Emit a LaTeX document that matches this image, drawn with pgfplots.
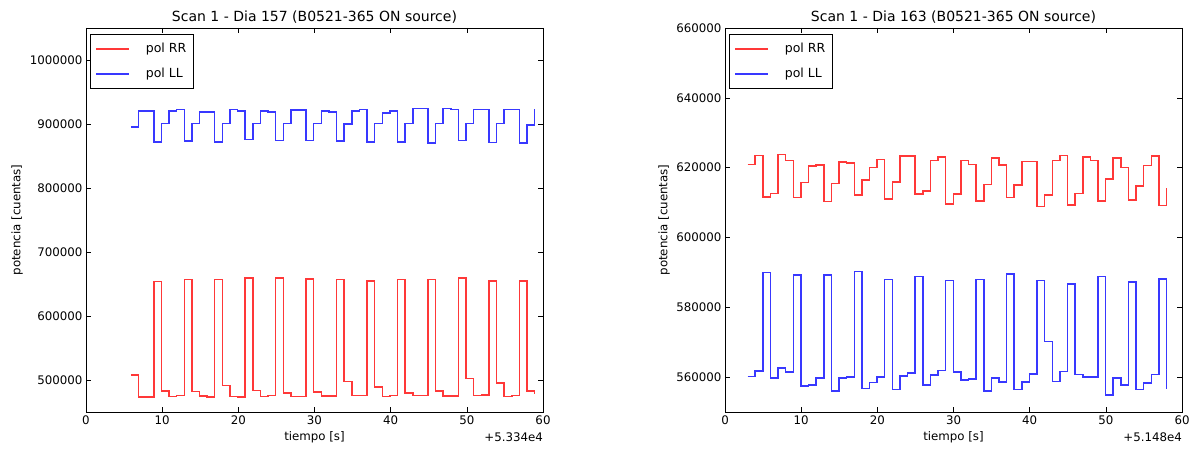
\documentclass[border=0pt]{standalone}
\usepackage{fontspec}
\setmainfont{DejaVu Sans}
\usepackage{pgfplots}
\pgfplotsset{compat=1.18}
\usepackage{pgfplotstable}

% Scan 1, day 157: time [s] (offset 5.334e4) and power [counts]
\pgfplotstableread{
t v
5.9 507800
6.9 473400
7.9 473400
8.9 654100
9.9 482800
10.9 474500
11.9 475400
12.9 656700
13.9 481700
14.9 474900
15.9 473400
16.9 656700
17.9 491700
18.9 474400
19.9 473400
20.9 659400
21.9 483800
22.9 474400
23.9 475400
24.9 659400
25.9 479600
26.9 473900
27.9 473900
28.9 658000
29.9 481000
30.9 474900
31.9 474900
32.9 656700
33.9 497300
34.9 476000
35.9 476000
36.9 655000
37.9 489000
38.9 473900
39.9 475400
40.9 656700
41.9 479600
42.9 475400
43.9 475400
44.9 656700
45.9 482800
46.9 474900
47.9 474900
48.9 659400
49.9 502000
50.9 475400
51.9 476500
52.9 655000
53.9 495300
54.9 473900
55.9 475400
56.9 655000
57.9 482800
58.9 477600
}\dayArr

\pgfplotstableread{
t v
5.9 895500
6.9 920600
7.9 920600
8.9 872000
9.9 900700
10.9 920600
11.9 922700
12.9 873500
13.9 900700
14.9 919000
15.9 919000
16.9 872000
17.9 900700
18.9 922700
19.9 920600
20.9 875600
21.9 900700
22.9 920600
23.9 919000
24.9 874600
25.9 900700
26.9 921600
27.9 921600
28.9 874600
29.9 900700
30.9 920600
31.9 919000
32.9 873500
33.9 899700
34.9 920600
35.9 922700
36.9 872000
37.9 900700
38.9 917400
39.9 920600
40.9 872000
41.9 900700
42.9 924200
43.9 924200
44.9 870400
45.9 900700
46.9 924200
47.9 922700
48.9 874600
49.9 900700
50.9 922700
51.9 922700
52.9 870900
53.9 900700
54.9 922700
55.9 922700
56.9 870400
57.9 898500
58.9 923000
}\dayAll

% Scan 1, day 163: time [s] (offset 5.148e4) and power [counts]
\pgfplotstableread{
t v
2.97 620900
3.97 623500
4.97 611600
5.97 612600
6.97 623700
7.97 622100
8.97 611400
9.97 615700
10.97 620400
11.97 620700
12.97 610300
13.97 615400
14.97 621600
15.97 621400
16.97 612100
17.97 616400
18.97 620100
19.97 622300
20.97 611000
21.97 615900
22.97 623300
23.97 623300
24.97 612400
25.97 613300
26.97 622100
27.97 623000
28.97 609600
29.97 612400
30.97 622000
31.97 620900
32.97 610500
33.97 615200
34.97 622800
35.97 620700
36.97 611400
37.97 615000
38.97 621800
39.97 621800
40.97 608800
41.97 612200
42.97 622100
43.97 623500
44.97 609300
45.97 612600
46.97 623000
47.97 622100
48.97 610500
49.97 616700
50.97 622800
51.97 620100
52.97 610800
53.97 614800
54.97 620600
55.97 623300
56.97 609100
57.97 614300
}\dayBrr

\pgfplotstableread{
t v
2.97 560200
3.97 561700
4.97 590000
5.97 559800
6.97 562600
7.97 561400
8.97 589300
9.97 557400
10.97 557800
11.97 559800
12.97 589300
13.97 556000
14.97 559800
15.97 560000
16.97 590200
17.97 556700
18.97 558400
19.97 560000
20.97 588000
21.97 556400
22.97 560300
23.97 561200
24.97 588800
25.97 557800
26.97 560600
27.97 561900
28.97 587700
29.97 561400
30.97 559200
31.97 559500
32.97 588000
33.97 556000
34.97 559800
35.97 558600
36.97 589500
37.97 556400
38.97 558600
39.97 560900
40.97 587600
41.97 570200
42.97 558800
43.97 561600
44.97 586700
45.97 560800
46.97 560000
47.97 560000
48.97 588800
49.97 554800
50.97 559700
51.97 557800
52.97 587200
53.97 556400
54.97 558300
55.97 560800
56.97 588100
57.97 556700
}\dayBll

\newcommand{\lblfont}{\fontsize{11.8}{14}\selectfont}
\definecolor{rrline}{rgb}{1,0.22,0.22}
\definecolor{llline}{rgb}{0.22,0.22,1}

\pgfplotsset{
  scanaxis/.style={
    scale only axis, width=457pt, height=384pt,
    xmin=0, xmax=60, xtick={0,10,...,60},
    tick align=inside, tick pos=both, major tick length=5pt,
    tick style={black, line width=0.6pt},
    axis line style={black, line width=0.8pt},
    scaled x ticks=false, scaled y ticks=false,
    /pgf/number format/assume math mode=true,
    yticklabel style={/pgf/number format/fixed, /pgf/number format/1000 sep={}},
    tick label style={font=\lblfont},
    clip mode=individual,
    title style={anchor=base, yshift=0pt, font=\fontsize{14}{17}\selectfont},
    xlabel style={at={(0.5,0)}, anchor=center, yshift=-25pt, font=\lblfont},
    legend style={at={(0,1)}, anchor=north west, xshift=4pt, yshift=-6pt,
      draw=black, line width=0.8pt, fill=white,
      inner xsep=5pt, inner ysep=7pt, row sep=10pt, column sep=14pt,
      font=\fontsize{12.5}{15}\selectfont},
    legend cell align=left,
    legend image code/.code={\draw[#1, line width=1.5pt] (0pt,0pt) -- (33pt,0pt);},
  },
  rr/.style={rrline, line width=1.5pt, const plot},
  ll/.style={llline, line width=1.5pt, const plot},
}

\begin{document}
\begin{tikzpicture}
\useasboundingbox (0,0) rectangle (1190pt,448pt);

\begin{axis}[scanaxis, at={(86pt,36pt)}, anchor=south west,
  ymin=450000, ymax=1050000,
  ytick={500000,600000,700000,800000,900000,1000000},
  title={Scan 1 - Dia 157 (B0521-365 ON source)},
  xlabel={tiempo [s]}]
  \addplot[rr] table[x=t, y=v] {\dayArr};
  \addlegendentry{pol RR}
  \addplot[ll] table[x=t, y=v] {\dayAll};
  \addlegendentry{pol LL}
  \node[rotate=90, font=\lblfont] at ([xshift=-69pt]rel axis cs:0,0.5) {potencia [cuentas]};
  \node[anchor=east, inner sep=0pt, font=\lblfont] at ([yshift=-25pt]rel axis cs:1,0) {+5.334e4};
\end{axis}

\begin{axis}[scanaxis, at={(725pt,36pt)}, anchor=south west,
  ymin=550000, ymax=660000,
  ytick={560000,580000,600000,620000,640000,660000},
  title={Scan 1 - Dia 163 (B0521-365 ON source)},
  xlabel={tiempo [s]}]
  \addplot[rr] table[x=t, y=v] {\dayBrr};
  \addlegendentry{pol RR}
  \addplot[ll] table[x=t, y=v] {\dayBll};
  \addlegendentry{pol LL}
  \node[rotate=90, font=\lblfont] at ([xshift=-61pt]rel axis cs:0,0.5) {potencia [cuentas]};
  \node[anchor=east, inner sep=0pt, font=\lblfont] at ([yshift=-25pt]rel axis cs:1,0) {+5.148e4};
\end{axis}
\end{tikzpicture}
\end{document}
